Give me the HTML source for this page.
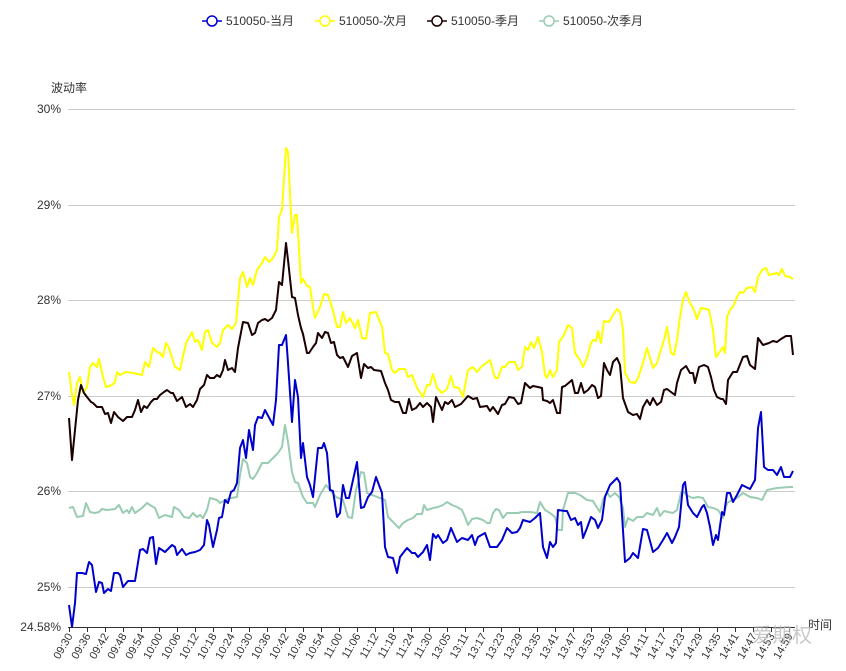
<!DOCTYPE html>
<html><head><meta charset="utf-8"><style>
html,body{margin:0;padding:0;background:#fff;}
svg{display:block;font-family:"Liberation Sans","Noto Sans CJK SC",sans-serif;}
</style></head><body>
<svg width="846" height="671" viewBox="0 0 846 671" xmlns="http://www.w3.org/2000/svg">
<g font-size="12" fill="#333">
<line x1="202" y1="21" x2="222" y2="21" stroke="#0000cd" stroke-width="1.5"/><circle cx="212" cy="21" r="5" fill="#fff" stroke="#0000cd" stroke-width="1.5"/><text x="226" y="25">510050-当月</text>
<line x1="315" y1="21" x2="335" y2="21" stroke="#ffff00" stroke-width="1.5"/><circle cx="325" cy="21" r="5" fill="#fff" stroke="#ffff00" stroke-width="1.5"/><text x="339" y="25">510050-次月</text>
<line x1="427" y1="21" x2="447" y2="21" stroke="#1a0000" stroke-width="1.5"/><circle cx="437" cy="21" r="5" fill="#fff" stroke="#1a0000" stroke-width="1.5"/><text x="451" y="25">510050-季月</text>
<line x1="539" y1="21" x2="559" y2="21" stroke="#99ccb3" stroke-width="1.5"/><circle cx="549" cy="21" r="5" fill="#fff" stroke="#99ccb3" stroke-width="1.5"/><text x="563" y="25">510050-次季月</text>
</g>
<text x="51" y="92" font-size="12" fill="#333">波动率</text>
<g stroke="#ccc" stroke-width="1">
<line x1="68" y1="109.5" x2="795" y2="109.5"/><line x1="68" y1="205.5" x2="795" y2="205.5"/><line x1="68" y1="300.5" x2="795" y2="300.5"/><line x1="68" y1="396.5" x2="795" y2="396.5"/><line x1="68" y1="491.5" x2="795" y2="491.5"/><line x1="68" y1="587.5" x2="795" y2="587.5"/>
</g>
<g font-size="12" fill="#333" text-anchor="end">
<text x="61" y="113">30%</text><text x="61" y="209">29%</text><text x="61" y="304">28%</text><text x="61" y="400">27%</text><text x="61" y="495">26%</text><text x="61" y="591">25%</text><text x="61" y="631">24.58%</text>
</g>
<line x1="68" y1="627.5" x2="795" y2="627.5" stroke="#333" stroke-width="1"/>
<path stroke="#333" stroke-width="1" d="M69.5 627v5M87.5 627v5M105.5 627v5M123.5 627v5M141.5 627v5M159.5 627v5M177.5 627v5M195.5 627v5M213.5 627v5M231.5 627v5M249.5 627v5M267.5 627v5M285.5 627v5M303.5 627v5M321.5 627v5M339.5 627v5M357.5 627v5M375.5 627v5M393.5 627v5M411.5 627v5M429.5 627v5M447.5 627v5M465.5 627v5M483.5 627v5M501.5 627v5M519.5 627v5M537.5 627v5M555.5 627v5M573.5 627v5M591.5 627v5M609.5 627v5M627.5 627v5M645.5 627v5M663.5 627v5M681.5 627v5M699.5 627v5M717.5 627v5M735.5 627v5M753.5 627v5M771.5 627v5M789.5 627v5"/>
<g fill="none" stroke-width="2" stroke-linejoin="round">
<polyline stroke="#ffff00" points="69,372 72,395 74,405 77,383 80,377 83,393 87,387 90,367 93,363 97,367 99,359 103,377 106,387 112,385 115,382 117,372 120,375 126,372 133,373 142,375 145,362 149,367 153,348 157,352 160,353 163,357 166,343 169,348 175,367 180,370 186,343 192,332 195,342 198,340 202,350 205,332 208,330 212,343 217,347 220,343 223,330 228,325 232,329 236,323 240,278 243,272 247,287 250,278 253,285 257,270 262,263 265,257 269,262 273,258 277,250 279,217 282,210 286,148 288,152 292,233 295,215 297,215 301,283 303,279 307,286 310,287 313,307 315,318 320,307 324,294 328,295 332,307 337,327 340,327 343,312 346,323 350,318 355,328 358,320 362,338 366,339 370,313 376,312 382,327 385,353 388,354 392,370 395,373 399,369 405,369 408,377 412,375 417,388 423,397 427,385 430,385 433,374 437,388 442,393 447,389 451,376 454,387 459,388 463,397 468,370 473,367 477,372 481,367 490,360 495,378 498,378 502,367 505,367 509,362 515,362 518,370 522,367 525,347 528,350 531,342 534,348 538,337 542,352 545,375 547,378 550,370 553,377 557,370 559,342 564,335 568,325 572,328 575,353 580,360 583,367 587,358 591,343 593,340 596,341 598,331 601,343 604,321 609,322 613,315 617,309 620,312 623,330 625,373 630,382 635,383 638,378 643,363 647,348 650,358 653,368 657,363 660,353 664,340 667,327 671,353 674,355 677,340 680,317 683,300 686,292 690,303 694,310 697,319 701,308 706,309 709,310 713,330 716,357 719,353 723,347 725,353 727,317 731,308 733,307 737,297 740,292 743,293 747,288 752,287 755,292 758,277 762,270 766,268 769,275 773,274 777,273 779,275 782,269 785,276 790,277 793,279"/>
<polyline stroke="#1a0000" points="69,418 72,460 75,430 78,400 81,385 84,393 87,397 91,402 93,403 97,407 102,407 105,414 108,413 111,423 114,412 118,417 123,421 127,417 132,417 135,410 138,400 141,412 144,406 147,408 151,402 154,399 157,399 160,395 164,392 167,390 171,393 173,393 177,401 182,397 186,407 190,404 193,407 197,400 200,389 204,385 207,375 210,378 214,378 217,375 220,377 223,370 225,360 228,370 232,368 235,372 238,348 243,322 248,323 252,335 255,333 258,323 262,320 265,319 268,321 272,318 276,310 279,282 282,285 286,243 288,260 292,297 295,298 298,315 301,328 303,334 307,353 309,353 313,347 316,343 318,333 322,338 325,332 328,333 331,343 334,342 337,355 340,358 343,357 348,367 352,356 357,353 361,378 364,364 368,368 371,367 374,370 381,371 385,383 388,390 391,400 395,402 399,402 403,413 406,413 409,399 412,410 416,408 420,403 423,407 427,403 431,407 433,422 436,397 442,410 445,402 448,404 452,400 455,407 461,404 468,396 473,399 477,398 480,407 487,406 490,411 493,407 498,414 502,405 505,404 509,397 514,398 518,404 521,403 525,383 530,388 533,386 538,387 542,388 543,400 547,401 550,403 553,400 557,413 560,413 562,387 565,386 572,380 575,393 578,393 581,383 584,393 588,390 592,385 595,387 598,398 601,396 604,363 607,370 610,375 613,362 617,358 620,365 623,398 628,412 633,415 637,414 640,419 643,407 647,400 650,405 653,398 657,405 661,402 664,390 667,389 671,392 675,395 677,383 681,370 686,366 690,373 693,373 695,383 699,367 704,365 708,367 711,377 714,390 717,397 721,399 723,399 726,404 728,380 733,372 737,372 743,357 747,356 750,365 755,369 758,338 763,345 769,343 773,341 777,342 781,339 786,336 791,336 793,355"/>
<polyline stroke="#99ccb3" points="69,508 73,507 77,517 83,516 86,503 90,512 95,513 99,512 102,509 107,510 115,509 119,505 123,513 127,510 129,513 132,507 135,513 142,508 147,503 150,505 155,508 159,518 165,515 172,517 174,507 179,510 184,517 189,518 193,513 197,517 200,515 203,518 207,510 210,498 217,500 220,503 225,500 231,498 237,497 240,475 243,459 247,463 250,477 253,479 257,473 262,463 268,463 273,458 278,453 282,447 285,425 288,442 292,472 295,482 298,483 303,497 307,503 313,503 315,507 320,495 326,485 330,490 336,497 343,500 348,517 352,518 356,490 361,472 364,473 367,493 372,495 380,498 385,500 388,517 393,522 399,528 403,523 408,520 413,518 417,514 422,514 424,505 427,510 433,508 438,507 443,505 447,502 452,505 457,507 462,510 465,517 468,525 472,519 477,518 483,520 487,523 490,523 493,513 496,509 499,510 503,518 507,513 510,513 518,513 522,512 530,512 537,513 540,502 545,510 550,513 555,517 558,530 562,530 563,510 568,493 575,493 580,495 587,500 593,501 596,506 600,512 603,500 607,492 610,497 615,493 619,497 623,508 625,527 628,518 633,521 637,517 643,517 647,513 653,515 657,508 660,516 664,511 668,512 673,513 677,510 681,493 684,492 688,496 693,498 698,497 703,498 708,507 713,508 718,510 723,518 727,503 732,500 737,498 743,493 750,497 757,498 762,500 767,490 777,488 790,487 793,487"/>
<polyline stroke="#0000cd" points="69,605 72,627 75,603 77,573 82,573 86,574 89,562 92,565 96,592 99,582 102,583 104,593 108,589 111,591 114,573 118,573 120,575 123,587 128,581 135,581 140,550 143,549 147,553 150,538 153,537 156,564 159,548 165,552 172,545 175,547 177,555 182,549 186,555 190,553 195,552 200,550 204,545 207,520 209,525 213,547 217,530 219,518 222,517 225,500 228,503 231,492 234,490 237,483 240,448 243,440 246,458 249,430 253,450 255,425 258,417 262,418 265,410 273,425 276,400 279,345 282,345 286,335 288,363 292,422 295,380 298,397 301,458 303,443 307,477 310,485 313,497 318,448 322,448 324,443 327,453 330,490 333,491 337,517 340,513 343,485 346,498 349,498 353,480 357,462 361,508 364,507 368,497 372,492 376,477 382,493 385,547 388,557 393,558 397,573 400,557 407,548 412,553 415,553 418,557 423,552 427,545 430,560 433,534 436,538 438,535 443,543 447,540 451,528 457,542 462,538 468,540 472,535 475,545 478,537 485,533 490,547 497,547 502,540 507,528 512,533 517,532 520,528 523,520 530,522 535,518 540,513 543,547 547,558 550,542 553,547 556,543 558,510 565,511 567,511 571,520 575,518 578,525 581,522 583,538 587,528 591,517 595,520 598,528 602,520 605,497 610,485 617,478 620,483 625,562 630,558 633,553 638,558 643,529 647,530 653,552 658,548 663,540 667,533 672,543 675,537 679,527 683,485 685,482 688,505 693,513 697,517 702,507 704,505 707,513 710,527 713,545 716,535 718,540 722,512 724,515 727,493 730,493 733,502 737,495 742,485 750,489 755,480 758,428 761,412 764,467 768,470 773,470 777,475 781,467 784,477 790,477 793,471"/>
</g>
<g font-size="11" fill="#333" text-anchor="end">
<text transform="translate(73,636) rotate(-60)">09:30</text>
<text transform="translate(91,636) rotate(-60)">09:36</text>
<text transform="translate(109,636) rotate(-60)">09:42</text>
<text transform="translate(127,636) rotate(-60)">09:48</text>
<text transform="translate(145,636) rotate(-60)">09:54</text>
<text transform="translate(163,636) rotate(-60)">10:00</text>
<text transform="translate(181,636) rotate(-60)">10:06</text>
<text transform="translate(199,636) rotate(-60)">10:12</text>
<text transform="translate(217,636) rotate(-60)">10:18</text>
<text transform="translate(235,636) rotate(-60)">10:24</text>
<text transform="translate(253,636) rotate(-60)">10:30</text>
<text transform="translate(271,636) rotate(-60)">10:36</text>
<text transform="translate(289,636) rotate(-60)">10:42</text>
<text transform="translate(307,636) rotate(-60)">10:48</text>
<text transform="translate(325,636) rotate(-60)">10:54</text>
<text transform="translate(343,636) rotate(-60)">11:00</text>
<text transform="translate(361,636) rotate(-60)">11:06</text>
<text transform="translate(379,636) rotate(-60)">11:12</text>
<text transform="translate(397,636) rotate(-60)">11:18</text>
<text transform="translate(415,636) rotate(-60)">11:24</text>
<text transform="translate(433,636) rotate(-60)">11:30</text>
<text transform="translate(451,636) rotate(-60)">13:05</text>
<text transform="translate(469,636) rotate(-60)">13:11</text>
<text transform="translate(487,636) rotate(-60)">13:17</text>
<text transform="translate(505,636) rotate(-60)">13:23</text>
<text transform="translate(523,636) rotate(-60)">13:29</text>
<text transform="translate(541,636) rotate(-60)">13:35</text>
<text transform="translate(559,636) rotate(-60)">13:41</text>
<text transform="translate(577,636) rotate(-60)">13:47</text>
<text transform="translate(595,636) rotate(-60)">13:53</text>
<text transform="translate(613,636) rotate(-60)">13:59</text>
<text transform="translate(631,636) rotate(-60)">14:05</text>
<text transform="translate(649,636) rotate(-60)">14:11</text>
<text transform="translate(667,636) rotate(-60)">14:17</text>
<text transform="translate(685,636) rotate(-60)">14:23</text>
<text transform="translate(703,636) rotate(-60)">14:29</text>
<text transform="translate(721,636) rotate(-60)">14:35</text>
<text transform="translate(739,636) rotate(-60)">14:41</text>
<text transform="translate(757,636) rotate(-60)">14:47</text>
<text transform="translate(775,636) rotate(-60)">14:53</text>
<text transform="translate(793,636) rotate(-60)">14:59</text>
</g>
<text x="808" y="629" font-size="12" fill="#333">时间</text>
<text x="752" y="642" font-size="20" fill="#bbb" opacity="0.8">爱期权</text>
</svg>
</body></html>
